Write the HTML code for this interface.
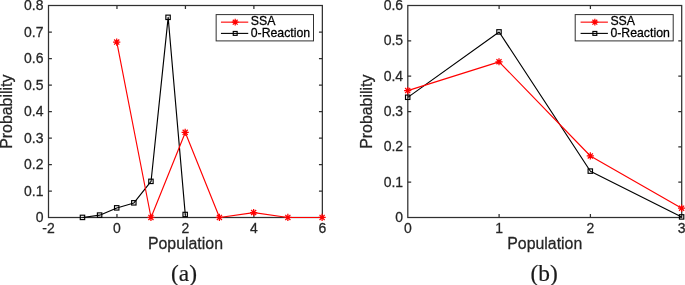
<!DOCTYPE html>
<html><head><meta charset="utf-8"><title>fig</title>
<style>
html,body{margin:0;padding:0;background:#fff;}
body{width:685px;height:285px;overflow:hidden;}
svg{display:block;will-change:transform;}
text{font-family:"Liberation Sans",sans-serif;fill:#262626;stroke:#262626;stroke-width:0.25px;}
.tk{font-size:14px;}
.lb{font-size:15.9px;}
.lg{font-size:12.3px;fill:#000;stroke:#000;}
.cap{font-family:"Liberation Serif",serif;font-size:23.4px;fill:#1a1a1a;stroke:#1a1a1a;stroke-width:0.2px;}
</style></head><body>
<svg width="685" height="285" viewBox="0 0 685 285">
<rect x="0" y="0" width="685" height="285" fill="#fff"/>
<rect x="48.5" y="5.5" width="273.85" height="212.00" stroke="#303030" stroke-width="1.25" fill="none"/>
<path d="M116.96 217.5v-3.4M116.96 5.5v3.4M185.43 217.5v-3.4M185.43 5.5v3.4M253.89 217.5v-3.4M253.89 5.5v3.4M48.5 191.00h3.4M322.35 191.00h-3.4M48.5 164.50h3.4M322.35 164.50h-3.4M48.5 138.00h3.4M322.35 138.00h-3.4M48.5 111.50h3.4M322.35 111.50h-3.4M48.5 85.00h3.4M322.35 85.00h-3.4M48.5 58.50h3.4M322.35 58.50h-3.4M48.5 32.00h3.4M322.35 32.00h-3.4" stroke="#303030" stroke-width="1.25" fill="none"/>
<polyline points="82.58,217.50 99.70,215.19 116.81,207.96 133.93,202.93 151.04,181.46 168.16,17.43 185.28,214.59" stroke="#000" stroke-width="1.15" fill="none" stroke-linejoin="round"/>
<rect x="80.28" y="215.20" width="4.4" height="4.4" stroke="#000" stroke-width="1.15" fill="none"/>
<rect x="97.40" y="212.89" width="4.4" height="4.4" stroke="#000" stroke-width="1.15" fill="none"/>
<rect x="114.51" y="205.66" width="4.4" height="4.4" stroke="#000" stroke-width="1.15" fill="none"/>
<rect x="131.63" y="200.63" width="4.4" height="4.4" stroke="#000" stroke-width="1.15" fill="none"/>
<rect x="148.74" y="179.16" width="4.4" height="4.4" stroke="#000" stroke-width="1.15" fill="none"/>
<rect x="165.86" y="15.13" width="4.4" height="4.4" stroke="#000" stroke-width="1.15" fill="none"/>
<rect x="182.98" y="212.29" width="4.4" height="4.4" stroke="#000" stroke-width="1.15" fill="none"/>
<polyline points="116.81,42.20 151.04,217.50 185.28,132.44 219.51,217.50 253.74,212.60 287.97,217.50 322.20,217.50" stroke="#ff0000" stroke-width="1.15" fill="none" stroke-linejoin="round"/>
<path d="M113.11 42.10H120.31M116.71 38.50V45.70M114.17 39.56L119.26 44.65M114.17 44.65L119.26 39.56" stroke="#ff0000" stroke-width="1.25" fill="none"/>
<path d="M147.34 217.40H154.54M150.94 213.80V221.00M148.40 214.85L153.49 219.95M148.40 219.95L153.49 214.85" stroke="#ff0000" stroke-width="1.25" fill="none"/>
<path d="M181.58 132.34H188.78M185.18 128.74V135.94M182.63 129.79L187.72 134.88M182.63 134.88L187.72 129.79" stroke="#ff0000" stroke-width="1.25" fill="none"/>
<path d="M215.81 217.40H223.01M219.41 213.80V221.00M216.86 214.85L221.95 219.95M216.86 219.95L221.95 214.85" stroke="#ff0000" stroke-width="1.25" fill="none"/>
<path d="M250.04 212.50H257.24M253.64 208.90V216.10M251.09 209.95L256.18 215.04M251.09 215.04L256.18 209.95" stroke="#ff0000" stroke-width="1.25" fill="none"/>
<path d="M284.27 217.40H291.47M287.87 213.80V221.00M285.32 214.85L290.41 219.95M285.32 219.95L290.41 214.85" stroke="#ff0000" stroke-width="1.25" fill="none"/>
<path d="M318.50 217.40H325.70M322.10 213.80V221.00M319.55 214.85L324.65 219.95M319.55 219.95L324.65 214.85" stroke="#ff0000" stroke-width="1.25" fill="none"/>
<text transform="translate(48.50,233.10) scale(1,1.04)" text-anchor="middle" class="tk">-2</text>
<text transform="translate(116.96,233.10) scale(1,1.04)" text-anchor="middle" class="tk">0</text>
<text transform="translate(185.43,233.10) scale(1,1.04)" text-anchor="middle" class="tk">2</text>
<text transform="translate(253.89,233.10) scale(1,1.04)" text-anchor="middle" class="tk">4</text>
<text transform="translate(322.35,233.10) scale(1,1.04)" text-anchor="middle" class="tk">6</text>
<text transform="translate(43.50,222.15) scale(1,1.04)" text-anchor="end" class="tk">0</text>
<text transform="translate(43.50,195.65) scale(1,1.04)" text-anchor="end" class="tk">0.1</text>
<text transform="translate(43.50,169.15) scale(1,1.04)" text-anchor="end" class="tk">0.2</text>
<text transform="translate(43.50,142.65) scale(1,1.04)" text-anchor="end" class="tk">0.3</text>
<text transform="translate(43.50,116.15) scale(1,1.04)" text-anchor="end" class="tk">0.4</text>
<text transform="translate(43.50,89.65) scale(1,1.04)" text-anchor="end" class="tk">0.5</text>
<text transform="translate(43.50,63.15) scale(1,1.04)" text-anchor="end" class="tk">0.6</text>
<text transform="translate(43.50,36.65) scale(1,1.04)" text-anchor="end" class="tk">0.7</text>
<text transform="translate(43.50,10.15) scale(1,1.04)" text-anchor="end" class="tk">0.8</text>
<text transform="translate(185.43,248.90) scale(1,1.02)" text-anchor="middle" class="lb">Population</text>
<text transform="translate(11.70,111.70) rotate(-90) scale(1,1.02)" text-anchor="middle" class="lb">Probability</text>
<text transform="translate(184.00,280.70) scale(1,1)" text-anchor="middle" class="cap">(a)</text>
<rect x="216.15" y="14.6" width="97.35" height="26.30" stroke="#303030" stroke-width="1" fill="#fff"/>
<path d="M220.95 22.15H248.25" stroke="#ff0000" stroke-width="1.1"/>
<path d="M231.80 22.20H238.60M235.20 18.80V25.60M232.80 19.80L237.60 24.60M232.80 24.60L237.60 19.80" stroke="#ff0000" stroke-width="1.25" fill="none"/>
<path d="M220.95 33.4H248.25" stroke="#000" stroke-width="1.1"/>
<rect x="233.25" y="31.45" width="3.9" height="3.9" stroke="#000" stroke-width="1.15" fill="none"/>
<text transform="translate(250.75,25.30) scale(1,1.04)" text-anchor="start" class="lg">SSA</text>
<text transform="translate(250.75,37.30) scale(1,1.04)" text-anchor="start" class="lg">0-Reaction</text>
<rect x="407.8" y="5.5" width="273.90" height="212.00" stroke="#303030" stroke-width="1.25" fill="none"/>
<path d="M499.10 217.5v-3.4M499.10 5.5v3.4M590.40 217.5v-3.4M590.40 5.5v3.4M407.8 182.17h3.4M681.7 182.17h-3.4M407.8 146.83h3.4M681.7 146.83h-3.4M407.8 111.50h3.4M681.7 111.50h-3.4M407.8 76.17h3.4M681.7 76.17h-3.4M407.8 40.83h3.4M681.7 40.83h-3.4" stroke="#303030" stroke-width="1.25" fill="none"/>
<polyline points="407.80,97.37 499.10,32.00 590.40,171.21 681.70,217.01" stroke="#000" stroke-width="1.15" fill="none" stroke-linejoin="round"/>
<rect x="405.50" y="95.07" width="4.4" height="4.4" stroke="#000" stroke-width="1.15" fill="none"/>
<rect x="496.80" y="29.70" width="4.4" height="4.4" stroke="#000" stroke-width="1.15" fill="none"/>
<rect x="588.10" y="168.91" width="4.4" height="4.4" stroke="#000" stroke-width="1.15" fill="none"/>
<rect x="679.40" y="214.71" width="4.4" height="4.4" stroke="#000" stroke-width="1.15" fill="none"/>
<polyline points="407.80,90.65 499.10,61.86 590.40,156.02 681.70,208.31" stroke="#ff0000" stroke-width="1.15" fill="none" stroke-linejoin="round"/>
<path d="M404.10 90.55H411.30M407.70 86.95V94.15M405.15 88.01L410.25 93.10M405.15 93.10L410.25 88.01" stroke="#ff0000" stroke-width="1.25" fill="none"/>
<path d="M495.40 61.76H502.60M499.00 58.16V65.36M496.45 59.21L501.55 64.30M496.45 64.30L501.55 59.21" stroke="#ff0000" stroke-width="1.25" fill="none"/>
<path d="M586.70 155.92H593.90M590.30 152.32V159.52M587.75 153.37L592.85 158.47M587.75 158.47L592.85 153.37" stroke="#ff0000" stroke-width="1.25" fill="none"/>
<path d="M678.00 208.21H685.20M681.60 204.61V211.81M679.05 205.67L684.15 210.76M679.05 210.76L684.15 205.67" stroke="#ff0000" stroke-width="1.25" fill="none"/>
<text transform="translate(407.80,233.10) scale(1,1.04)" text-anchor="middle" class="tk">0</text>
<text transform="translate(499.10,233.10) scale(1,1.04)" text-anchor="middle" class="tk">1</text>
<text transform="translate(590.40,233.10) scale(1,1.04)" text-anchor="middle" class="tk">2</text>
<text transform="translate(681.70,233.10) scale(1,1.04)" text-anchor="middle" class="tk">3</text>
<text transform="translate(403.10,222.15) scale(1,1.04)" text-anchor="end" class="tk">0</text>
<text transform="translate(403.10,186.82) scale(1,1.04)" text-anchor="end" class="tk">0.1</text>
<text transform="translate(403.10,151.48) scale(1,1.04)" text-anchor="end" class="tk">0.2</text>
<text transform="translate(403.10,116.15) scale(1,1.04)" text-anchor="end" class="tk">0.3</text>
<text transform="translate(403.10,80.82) scale(1,1.04)" text-anchor="end" class="tk">0.4</text>
<text transform="translate(403.10,45.48) scale(1,1.04)" text-anchor="end" class="tk">0.5</text>
<text transform="translate(403.10,10.15) scale(1,1.04)" text-anchor="end" class="tk">0.6</text>
<text transform="translate(544.75,248.90) scale(1,1.02)" text-anchor="middle" class="lb">Population</text>
<text transform="translate(372.00,111.70) rotate(-90) scale(1,1.02)" text-anchor="middle" class="lb">Probability</text>
<text transform="translate(544.10,280.70) scale(1,1)" text-anchor="middle" class="cap">(b)</text>
<rect x="575.2" y="14.6" width="98.00" height="26.30" stroke="#303030" stroke-width="1" fill="#fff"/>
<path d="M580.60 22.15H607.90" stroke="#ff0000" stroke-width="1.1"/>
<path d="M591.45 22.20H598.25M594.85 18.80V25.60M592.45 19.80L597.25 24.60M592.45 24.60L597.25 19.80" stroke="#ff0000" stroke-width="1.25" fill="none"/>
<path d="M580.60 33.4H607.90" stroke="#000" stroke-width="1.1"/>
<rect x="592.90" y="31.45" width="3.9" height="3.9" stroke="#000" stroke-width="1.15" fill="none"/>
<text transform="translate(610.40,25.30) scale(1,1.04)" text-anchor="start" class="lg">SSA</text>
<text transform="translate(610.40,37.30) scale(1,1.04)" text-anchor="start" class="lg">0-Reaction</text>
</svg>
</body></html>
